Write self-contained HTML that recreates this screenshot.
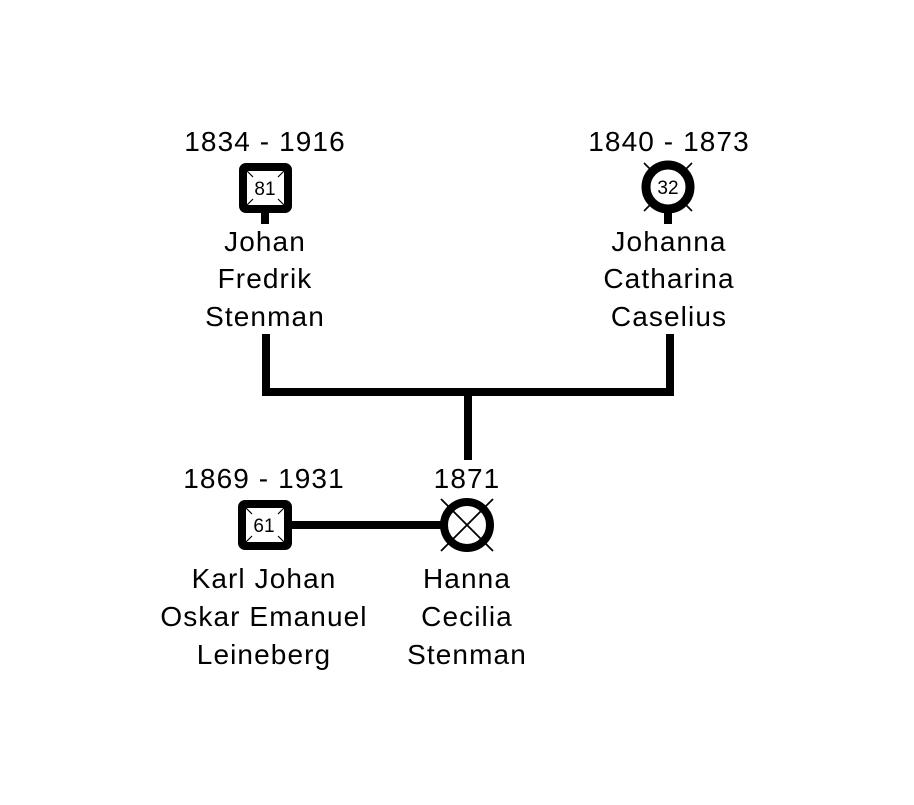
<!DOCTYPE html>
<html><head><meta charset="utf-8"><style>
html,body{margin:0;padding:0;background:#fff}
svg text{font-family:"Liberation Sans",sans-serif;font-size:28px;letter-spacing:1.1px;fill:#000;text-anchor:middle}
svg text.n{font-size:19px;letter-spacing:0}
</style></head><body>
<svg width="914" height="800" viewBox="0 0 914 800" xmlns="http://www.w3.org/2000/svg">
<rect width="914" height="800" fill="#fff"/>
<g stroke="#000" stroke-width="8" fill="none" stroke-linecap="square">
<path d="M266 338 V392 H670 V338"/>
<path d="M468 392 V456"/>
<path d="M292 525 H441"/>
<path d="M265 212 V220"/>
<path d="M668 212 V220"/>
</g>
<rect x="243" y="167" width="45" height="42" rx="3" fill="#fff" stroke="#000" stroke-width="8"/>
<g stroke="#000" stroke-width="1.2"><path d="M247 171 L253 177 M284 171 L278 177 M247 205 L253 199 M284 205 L278 199"/></g>
<text class="n" x="265" y="195">81</text>
<circle cx="668" cy="187" r="22" fill="#fff" stroke="#000" stroke-width="9"/>
<g stroke="#000" stroke-width="1.6"><path d="M644 163 L654 173 M692 163 L682 173 M644 211 L654 201 M692 211 L682 201"/></g>
<text class="n" x="668" y="194">32</text>
<rect x="242" y="504" width="46" height="42" rx="3" fill="#fff" stroke="#000" stroke-width="8"/>
<g stroke="#000" stroke-width="1.2"><path d="M246 508 L252 514 M284 508 L278 514 M246 542 L252 536 M284 542 L278 536"/></g>
<text class="n" x="264" y="532">61</text>
<circle cx="467" cy="525" r="23" fill="#fff" stroke="#000" stroke-width="8"/>
<g stroke="#000" stroke-width="1.8"><path d="M441 499 L493 551 M493 499 L441 551"/></g>
<text x="265" y="151">1834 - 1916</text>
<text x="265" y="251">Johan</text>
<text x="265" y="288">Fredrik</text>
<text x="265" y="326">Stenman</text>
<text x="669" y="151">1840 - 1873</text>
<text x="669" y="251">Johanna</text>
<text x="669" y="288">Catharina</text>
<text x="669" y="326">Caselius</text>
<text x="264" y="488">1869 - 1931</text>
<text x="264" y="588">Karl Johan</text>
<text x="264" y="626">Oskar Emanuel</text>
<text x="264" y="664">Leineberg</text>
<text x="467" y="488">1871</text>
<text x="467" y="588">Hanna</text>
<text x="467" y="626">Cecilia</text>
<text x="467" y="664">Stenman</text>
</svg>
</body></html>
